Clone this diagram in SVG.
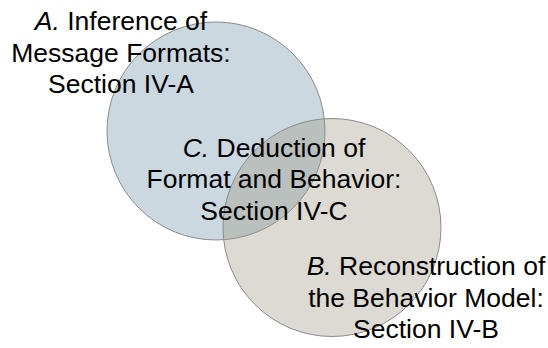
<svg xmlns="http://www.w3.org/2000/svg" width="548" height="348" viewBox="0 0 548 348">
  <style>
    .lbl { font-family: "Liberation Sans", Arial, sans-serif; font-size: 26.5px; fill: #000; text-anchor: middle; }
    .it { font-style: italic; }
    .circ { stroke: #8a8a8a; stroke-width: 1; }
    .ca { fill: #cbd8e0; }
    .cb { fill: #9b957e; fill-opacity: 0.35; }
  </style>
  <rect width="548" height="348" fill="#ffffff"/>
  <g id="nodeA">
    <circle class="circ ca" cx="216" cy="131" r="109"/>
    <text class="lbl" x="121" y="30"><tspan class="it">A.</tspan> Inference of</text>
    <text class="lbl" x="121" y="61.7">Message Formats:</text>
    <text class="lbl" x="121" y="93.3">Section IV-A</text>
  </g>
  <g id="nodeB">
    <circle class="circ cb" cx="332" cy="227.5" r="109"/>
    <text class="lbl" x="426" y="275"><tspan class="it">B.</tspan> Reconstruction of</text>
    <text class="lbl" x="426" y="306.7">the Behavior Model:</text>
    <text class="lbl" x="426" y="338.3">Section IV-B</text>
  </g>
  <g id="nodeC">
    <text class="lbl" x="274" y="156.7"><tspan class="it">C.</tspan> Deduction of</text>
    <text class="lbl" x="274" y="188.3">Format and Behavior:</text>
    <text class="lbl" x="274" y="220">Section IV-C</text>
  </g>
  <g id="connectors"/>
</svg>
